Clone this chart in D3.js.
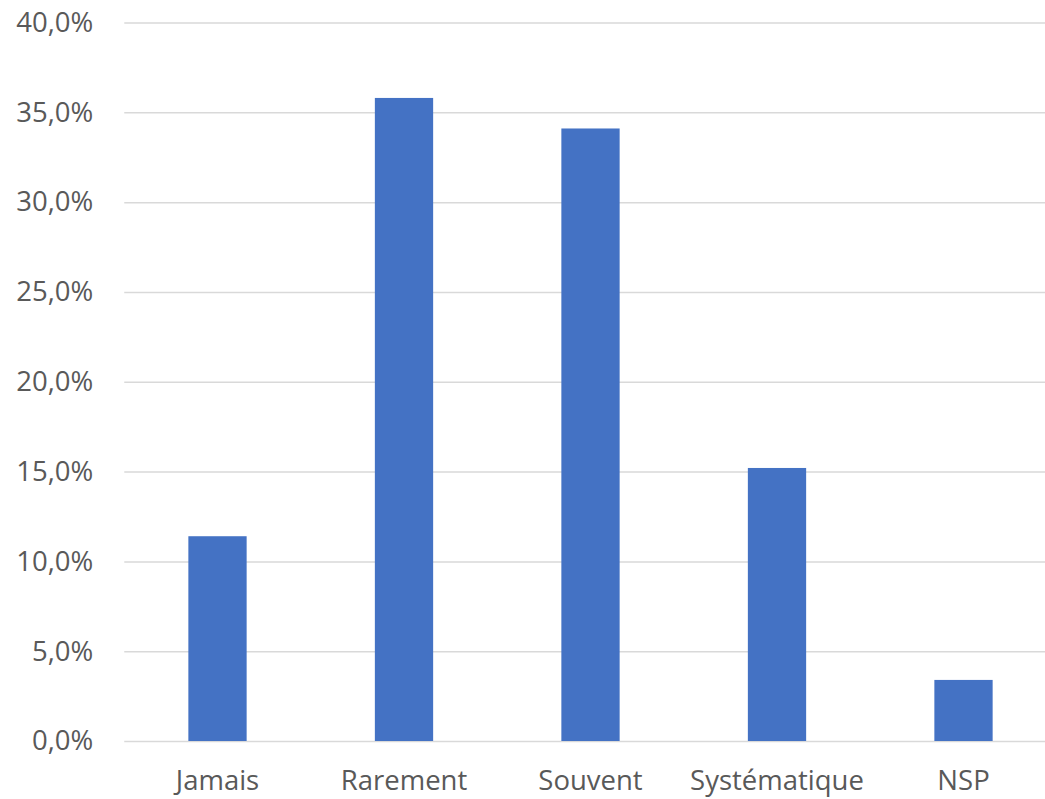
<!DOCTYPE html>
<html><head><meta charset="utf-8">
<script src="https://cdn.jsdelivr.net/npm/d3@7"></script>
<style>body{margin:0;background:#fff;} svg{display:block;}</style>
</head><body>
<script>
const categories = ["Jamais", "Rarement", "Souvent", "Systématique", "NSP"];
const values = [11.4, 35.8, 34.1, 15.2, 3.4];
const yTicks = [0, 5, 10, 15, 20, 25, 30, 35, 40];

const W = 1045, H = 799;
const m = {left: 124.25, right: 1056.75, top: 22.5, bottom: 741};
const svg = d3.select("body").append("svg").attr("width", W).attr("height", H);

const x = d3.scaleBand().domain(categories).range([m.left, m.right]).paddingInner(0.6875).paddingOuter(0.34375);
const y = d3.scaleLinear().domain([0, 40]).range([m.bottom, m.top]);

const fmt = v => v.toFixed(1).replace(".", ",") + "%";

const yAxis = d3.axisLeft(y).tickValues(yTicks).tickSize(-(m.right - m.left)).tickFormat(fmt).tickPadding(31);
const gy = svg.append("g").attr("transform", `translate(${m.left},0)`).call(yAxis);
gy.select(".domain").remove();
gy.selectAll(".tick line").attr("stroke", "#d9d9d9").attr("stroke-width", 1.5);
gy.selectAll(".tick text").attr("fill", "#595959").style("font-family", "'Open Sans', sans-serif").style("font-size", "27.5px");

svg.append("g").selectAll("rect").data(values).join("rect")
  .attr("x", (d, i) => x(categories[i]))
  .attr("width", x.bandwidth())
  .attr("y", d => y(d))
  .attr("height", d => y(0) - y(d))
  .attr("fill", "#4472C4");

const xAxis = d3.axisBottom(x).tickSize(0).tickPadding(29);
const gx = svg.append("g").attr("transform", `translate(0,${m.bottom})`).call(xAxis);
gx.select(".domain").remove();
gx.selectAll(".tick text").attr("fill", "#595959").style("font-family", "'Open Sans', sans-serif").style("font-size", "27.5px");
</script>
</body></html>
